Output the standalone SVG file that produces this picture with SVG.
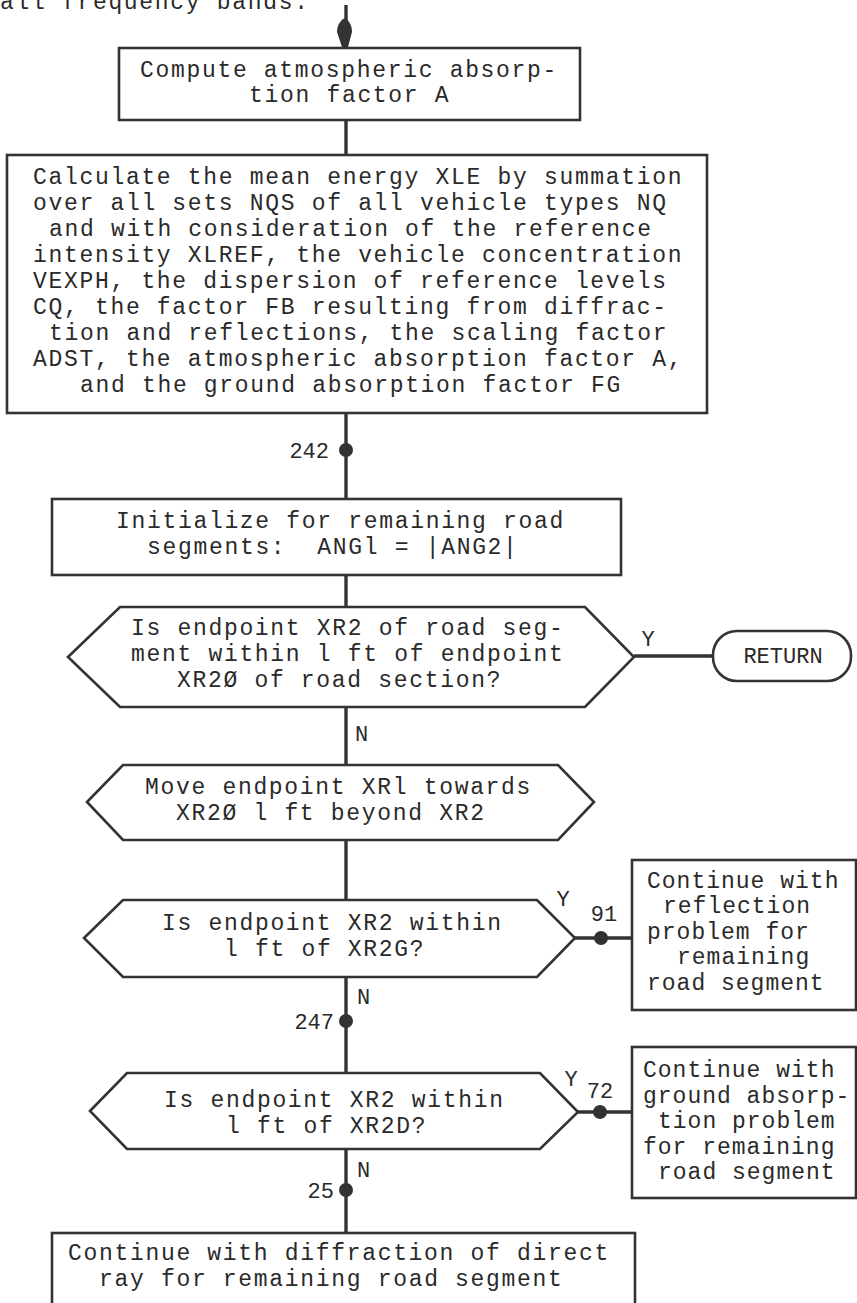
<svg xmlns="http://www.w3.org/2000/svg" width="857" height="1303" viewBox="0 0 857 1303">
  <style>
    .box { fill: #ffffff; stroke: #333333; stroke-width: 2.6; stroke-linejoin: miter; }
    .wire { fill: none; stroke: #333333; stroke-width: 3.4; }
    .dot { fill: #333333; }
    .t { font-family: "Liberation Mono", "Courier New", monospace; font-size: 23px; letter-spacing: 1.68px; fill: #2a2a2a; }
    .side .t { letter-spacing: 1.0px; }
    .lbl { font-family: "Liberation Mono", "Courier New", monospace; font-size: 22px; fill: #2a2a2a; }
  </style>
  <rect width="857" height="1303" fill="#ffffff"/>

  <!-- lead-in text carried over from the preceding part of the chart -->
  <text class="t" x="0" y="9">all frequency bands:</text>

  <!-- connectors -->
  <g id="connectors">
    <line class="wire" x1="346" y1="5" x2="346" y2="30"/>
    <path class="dot" d="M345,18 C350,21 352,27 352,32 L348,47 L342,47 L337,32 C337,27 339,21 345,18 Z"/>
    <line class="wire" x1="346" y1="120" x2="346" y2="155"/>
    <line class="wire" x1="346" y1="413" x2="346" y2="499"/>
    <circle class="dot" cx="346" cy="450" r="7"/>
    <line class="wire" x1="346" y1="575" x2="346" y2="607"/>
    <line class="wire" x1="346" y1="707" x2="346" y2="765"/>
    <line class="wire" x1="346" y1="840" x2="346" y2="900"/>
    <line class="wire" x1="346" y1="977" x2="346" y2="1073"/>
    <circle class="dot" cx="346" cy="1021" r="7"/>
    <line class="wire" x1="346" y1="1149" x2="346" y2="1233"/>
    <circle class="dot" cx="346" cy="1190" r="7"/>
    <line class="wire" x1="634" y1="656" x2="713" y2="656"/>
    <line class="wire" x1="575" y1="938" x2="632" y2="938"/>
    <circle class="dot" cx="601" cy="938" r="7"/>
    <line class="wire" x1="578" y1="1112" x2="632" y2="1112"/>
    <circle class="dot" cx="600" cy="1112" r="7"/>

    <!-- branch labels and entry points -->
    <text class="lbl" x="329" y="458" text-anchor="end">242</text>
    <text class="lbl" x="648" y="646" text-anchor="middle">Y</text>
    <text class="lbl" x="355" y="741">N</text>
    <text class="lbl" x="563" y="906" text-anchor="middle">Y</text>
    <text class="lbl" x="604" y="921" text-anchor="middle">91</text>
    <text class="lbl" x="357" y="1004">N</text>
    <text class="lbl" x="334" y="1029" text-anchor="end">247</text>
    <text class="lbl" x="571" y="1086" text-anchor="middle">Y</text>
    <text class="lbl" x="600" y="1098" text-anchor="middle">72</text>
    <text class="lbl" x="357" y="1177">N</text>
    <text class="lbl" x="334" y="1198" text-anchor="end">25</text>
  </g>

  <g id="absorption">
    <rect class="box" x="119" y="48" width="461" height="72"/>
    <text class="t" x="140" y="77">Compute atmospheric absorp-</text>
    <text class="t" x="249" y="102">tion factor A</text>
  </g>

  <g id="mean-energy">
    <rect class="box" x="7" y="155" width="700" height="258"/>
    <text class="t" x="33" y="184">Calculate the mean energy XLE by summation</text>
    <text class="t" x="33" y="210">over all sets NQS of all vehicle types NQ</text>
    <text class="t" x="49" y="236">and with consideration of the reference</text>
    <text class="t" x="33" y="262">intensity XLREF, the vehicle concentration</text>
    <text class="t" x="33" y="288">VEXPH, the dispersion of reference levels</text>
    <text class="t" x="33" y="314">CQ, the factor FB resulting from diffrac-</text>
    <text class="t" x="49" y="340">tion and reflections, the scaling factor</text>
    <text class="t" x="33" y="366">ADST, the atmospheric absorption factor A,</text>
    <text class="t" x="80" y="392">and the ground absorption factor FG</text>
  </g>

  <g id="init-segments">
    <rect class="box" x="52" y="499" width="569" height="76"/>
    <text class="t" x="116" y="528">Initialize for remaining road</text>
    <text class="t" x="147" y="554" xml:space="preserve">segments:  ANGl = |ANG2|</text>
  </g>

  <g id="check-section-end">
    <polygon class="box" points="68,657 120,607 585,607 634,657 585,707 120,707"/>
    <text class="t" x="131" y="635">Is endpoint XR2 of road seg-</text>
    <text class="t" x="131" y="661">ment within l ft of endpoint</text>
    <text class="t" x="177" y="687">XR2Ø of road section?</text>
  </g>

  <g id="return">
    <rect class="box" x="713" y="631" width="138" height="50" rx="24" ry="24"/>
    <text class="lbl" x="783" y="663" text-anchor="middle">RETURN</text>
  </g>

  <g id="move-endpoint">
    <polygon class="box" points="87,802 123,765 558,765 594,802 558,840 123,840"/>
    <text class="t" x="145" y="794">Move endpoint XRl towards</text>
    <text class="t" x="176" y="820">XR2Ø l ft beyond XR2</text>
  </g>

  <g id="check-xr2g">
    <polygon class="box" points="84,938 123,900 537,900 575,938 537,977 123,977"/>
    <text class="t" x="162" y="930">Is endpoint XR2 within</text>
    <text class="t" x="224" y="956">l ft of XR2G?</text>
  </g>

  <g id="reflection" class="side">
    <rect class="box" x="632" y="860" width="224" height="150"/>
    <text class="t" x="647" y="888">Continue with</text>
    <text class="t" x="663" y="913">reflection</text>
    <text class="t" x="647" y="939">problem for</text>
    <text class="t" x="677" y="964">remaining</text>
    <text class="t" x="647" y="990">road segment</text>
  </g>

  <g id="check-xr2d">
    <polygon class="box" points="90,1111 127,1073 540,1073 578,1112 540,1149 127,1149"/>
    <text class="t" x="164" y="1107">Is endpoint XR2 within</text>
    <text class="t" x="226" y="1133">l ft of XR2D?</text>
  </g>

  <g id="ground-absorption" class="side">
    <rect class="box" x="632" y="1047" width="224" height="151"/>
    <text class="t" x="643" y="1077">Continue with</text>
    <text class="t" x="643" y="1103">ground absorp-</text>
    <text class="t" x="658" y="1128">tion problem</text>
    <text class="t" x="643" y="1154">for remaining</text>
    <text class="t" x="658" y="1179">road segment</text>
  </g>

  <g id="diffraction">
    <rect class="box" x="52" y="1233" width="583" height="90"/>
    <text class="t" x="68" y="1260">Continue with diffraction of direct</text>
    <text class="t" x="99" y="1286">ray for remaining road segment</text>
  </g>
</svg>
